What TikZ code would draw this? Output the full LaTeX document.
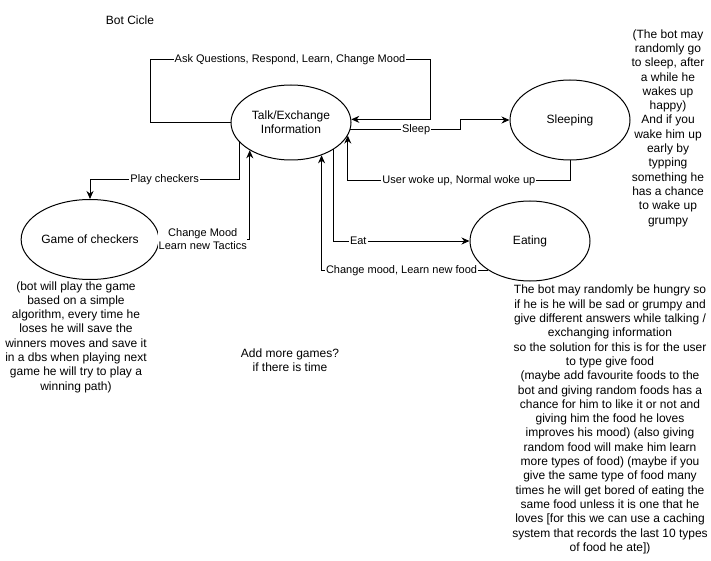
\documentclass[tikz,border=0pt]{standalone}
\usepackage{fontspec}
\setmainfont{Liberation Sans}
\usetikzlibrary{shapes.geometric,arrows.meta}

\begin{document}
\begin{tikzpicture}[x=1pt, y=-1pt, >={Stealth[length=8pt, width=7pt]},
	state/.style={ellipse, draw, line width=1pt, minimum width=120pt, minimum height=80pt, inner sep=0pt, align=center, font=\fontsize{12}{14}\selectfont},
	flow/.style={->, line width=1pt},
	lbl/.style={fill=white, inner sep=1pt, align=center, font=\fontsize{11}{13}\selectfont},
	note/.style={align=center, font=\fontsize{12}{14.3}\selectfont}]
	\useasboundingbox (0, 0) rectangle (711, 561);

	\node[note] (title) at (130, 20) {Bot Cicle};

	\node[state, minimum height=75pt] (talk) at (291, 122.5) {Talk/Exchange\\Information};
	\node[state] (sleep) at (570, 120) {Sleeping};
	\node[state] (eat) at (530, 241) {Eating};
	\node[state] (game) at (90, 239.5) {Game of checkers};

	\coordinate (loopl) at (150, 60);
	\coordinate (loopr) at (430, 60);
	\coordinate (sleepbend) at (460, 120);
	\coordinate (checkbend) at (90, 180);

	\draw[flow] (talk.west) -| (loopl) -- node[lbl] {Ask Questions, Respond, Learn, Change Mood} (loopr) |- (talk.3);
	\draw[flow] (talk.-7) -| node[lbl, pos=0.3] {Sleep} (sleepbend) -- (sleep.west);
	\draw[flow] (sleep.south) -- ++(0, 20) -| node[lbl, pos=0.25] {User woke up, Normal woke up} (talk.-13.5);
	\draw[flow] (talk.201) |- node[lbl, pos=0.75] {Play checkers} (checkbend) -- (game.north);
	\draw[flow] (game.east) -| node[lbl, pos=0.24, inner sep=0.5pt] {Change Mood\\Learn new Tactics} (talk.214);
	\draw[flow] (talk.-32.5) |- node[lbl, pos=0.59] {Eat} (eat.west);
	\draw[flow] (eat.215) -| node[lbl, pos=0.26] {Change mood, Learn new food} (talk.-47.3);

	\node[note] (gamenote) at (76, 337) {(bot will play the game\\based on a simple\\algorithm, every time he\\loses he will save the\\winners moves and save it\\in a dbs when playing next\\game he will try to play a\\winning path)};
	\node[note] (more) at (290, 360.5) {Add more games?\\if there is time};
	\node[note] (sleepnote) at (668, 128) {(The bot may\\randomly go\\to sleep, after\\a while he\\wakes up\\happy)\\And if you\\wake him up\\early by\\typping\\something he\\has a chance\\to wake up\\grumpy};
	\node[note] (eatnote) at (610, 419.5) {The bot may randomly be hungry so\\if he is he will be sad or grumpy and\\give different answers while talking /\\exchanging information\\so the solution for this is for the user\\to type give food\\(maybe add favourite foods to the\\bot and giving random foods has a\\chance for him to like it or not and\\giving him the food he loves\\improves his mood) (also giving\\random food will make him learn\\more types of food) (maybe if you\\give the same type of food many\\times he will get bored of eating the\\same food unless it is one that he\\loves [for this we can use a caching\\system that records the last 10 types\\of food he ate])};
\end{tikzpicture}
\end{document}
